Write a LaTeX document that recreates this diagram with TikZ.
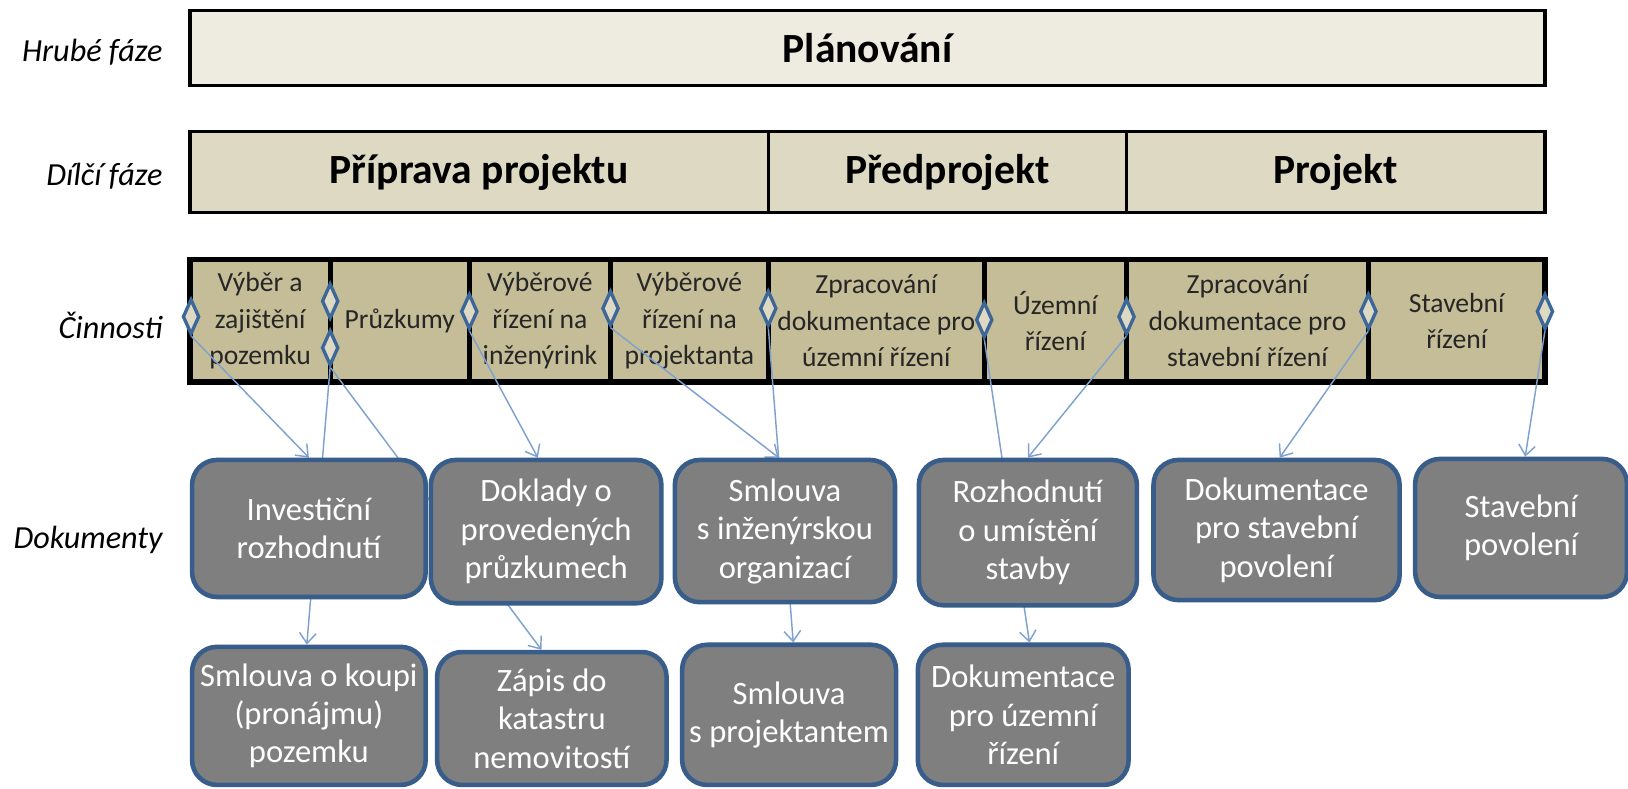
\documentclass[tikz,border=0pt]{standalone}
\usepackage{fontspec}
\setmainfont{Carlito}
\usetikzlibrary{shapes.geometric,arrows.meta}
\pgfdeclarelayer{bg}
\pgfdeclarelayer{lines}
\pgfsetlayers{bg,lines,main}
\definecolor{cone}{HTML}{EEECE1}
\definecolor{ctwo}{HTML}{DDD9C3}
\definecolor{cthree}{HTML}{C4BD97}
\definecolor{docfill}{HTML}{7F7F7F}
\definecolor{docline}{HTML}{385D8A}
\definecolor{dia}{HTML}{3D6699}
\definecolor{connc}{HTML}{7EA1CF}
\begin{document}
\begin{tikzpicture}[x=0.5pt,y=-0.5pt,
  rowlabel/.style={anchor=east,font=\fontsize{15.5}{18}\selectfont\itshape,inner sep=0},
  phase/.style={draw=black,line width=1.5pt,inner sep=0,font=\fontsize{20}{24}\selectfont\bfseries},
  act/.style={draw=black,line width=2.5pt,fill=cthree,inner sep=0,minimum height=59pt,align=center,font=\fontsize{13.3}{17.5}\selectfont,text=black!85},
  doc/.style={draw=docline,line width=2.2pt,fill=docfill,rounded corners=12pt,inner sep=0,align=center,text=white,font=\fontsize{15.7}{18.5}\selectfont},
  dmd/.style={diamond,draw=dia,line width=1.6pt,fill=ctwo,inner sep=0,minimum width=8pt,minimum height=17pt},
  connector/.style={draw=connc,line width=0.7pt,-{Straight Barb[length=5pt,width=8pt]}},
]
\useasboundingbox (0,0) rectangle (1568,759);

% row labels
\node[rowlabel] (lhf) at (157,50) {Hrubé fáze};
\node[rowlabel] (ldf) at (157,170) {Dílčí fáze};
\node[rowlabel] (lci) at (157,313) {Činnosti};
\node[rowlabel] (ldo) at (157,520) {Dokumenty};

\begin{pgfonlayer}{bg}
\fill[white] (0,0) rectangle (1568,759);
% phases
\node[phase,fill=cone,minimum width=652.5pt,minimum height=36pt] (plan) at (835.5,46) {Plánování};
\node[phase,fill=ctwo,minimum width=278.5pt,minimum height=39pt] (pp) at (461.5,166) {Příprava projektu};
\node[phase,fill=ctwo,minimum width=172.5pt,minimum height=39pt] (pre) at (912.5,166) {Předprojekt};
\node[phase,fill=ctwo,minimum width=201.5pt,minimum height=39pt] (proj) at (1286.5,166) {Projekt};
% activities
\node[act,minimum width=67.5pt] (a1) at (250.5,309) {Výběr a\\zajištění\\pozemku};
\node[act,minimum width=67pt] (a2) at (385,309) {Průzkumy};
\node[act,minimum width=68pt] (a3) at (520,309) {Výběrové\\řízení na\\inženýrink};
\node[act,minimum width=76pt] (a4) at (664,309) {Výběrové\\řízení na\\projektanta};
\node[act,minimum width=104pt] (a5) at (844,309) {Zpracování\\dokumentace pro\\územní řízení};
\node[act,minimum width=68.5pt] (a6) at (1016.5,309) {Územní\\řízení};
\node[act,minimum width=116.5pt] (a7) at (1201.5,309) {Zpracování\\dokumentace pro\\stavební řízení};
\node[act,minimum width=85pt] (a8) at (1403,309) {Stavební\\řízení};
\end{pgfonlayer}

% diamonds
\node[dmd] (d1) at (184,305) {};
\node[dmd] (d2a) at (318,290) {};
\node[dmd] (d2b) at (318,335) {};
\node[dmd] (d3) at (452,300) {};
\node[dmd] (d4) at (588,297) {};
\node[dmd] (d5) at (740,297) {};
\node[dmd] (d6) at (948,308) {};
\node[dmd] (d7) at (1085,305) {};
\node[dmd] (d8) at (1318,300) {};
\node[dmd] (d9) at (1488,300) {};

% documents
\node[doc,minimum width=112.5pt,minimum height=66pt] (inv) at (297.5,509) {Investiční\\rozhodnutí};
\node[doc,minimum width=111pt,minimum height=69pt] (dok) at (526,512) {Doklady o\\provedených\\průzkumech};
\node[doc,minimum width=106pt,minimum height=68.5pt] (smi) at (756,511.5) {Smlouva\\s inženýrskou\\organizací};
\node[doc,minimum width=105pt,minimum height=70pt] (roz) at (990,513) {Rozhodnutí\\o umístění\\stavby};
\node[doc,minimum width=118.5pt,minimum height=67.5pt] (dps) at (1229.5,510.5) {Dokumentace\\pro stavební\\povolení};
\node[doc,minimum width=102pt,minimum height=66.5pt] (spo) at (1465,508.5) {Stavební\\povolení};
\node[doc,minimum width=112.5pt,minimum height=66.5pt] (skp) at (297.5,689.5) {Smlouva o koupi\\(pronájmu)\\pozemku};
\node[doc,minimum width=110.5pt,minimum height=64pt] (zap) at (531.5,692) {Zápis do\\katastru\\nemovitostí};
\node[doc,minimum width=103pt,minimum height=67.5pt] (sp) at (760,688.5) {Smlouva\\s projektantem};
\node[doc,minimum width=101.5pt,minimum height=67.5pt] (dpu) at (985.5,688.5) {Dokumentace\\pro územní\\řízení};

\begin{pgfonlayer}{lines}
\draw[connector] (d1.south) -- (inv.north);
\draw[connector] (d2b.south) -- ([xshift=-1pt]skp.north);
\draw[connector] (d2b.south) -- ([xshift=-5pt]zap.north);
\draw[connector] (d3.south) -- ([xshift=-4pt]dok.north);
\draw[connector] (d4.south) -- ([xshift=-3pt]smi.north);
\draw[connector] (d5.south) -- ([xshift=2pt]sp.north);
\draw[connector] (d6.south) -- ([xshift=3pt]dpu.north);
\draw[connector] (d7.south) -- (roz.north);
\draw[connector] (d8.south) -- ([xshift=1.5pt]dps.north);
\draw[connector] (d9.south) -- ([xshift=2pt]spo.north);
\end{pgfonlayer}
\end{tikzpicture}
\end{document}
